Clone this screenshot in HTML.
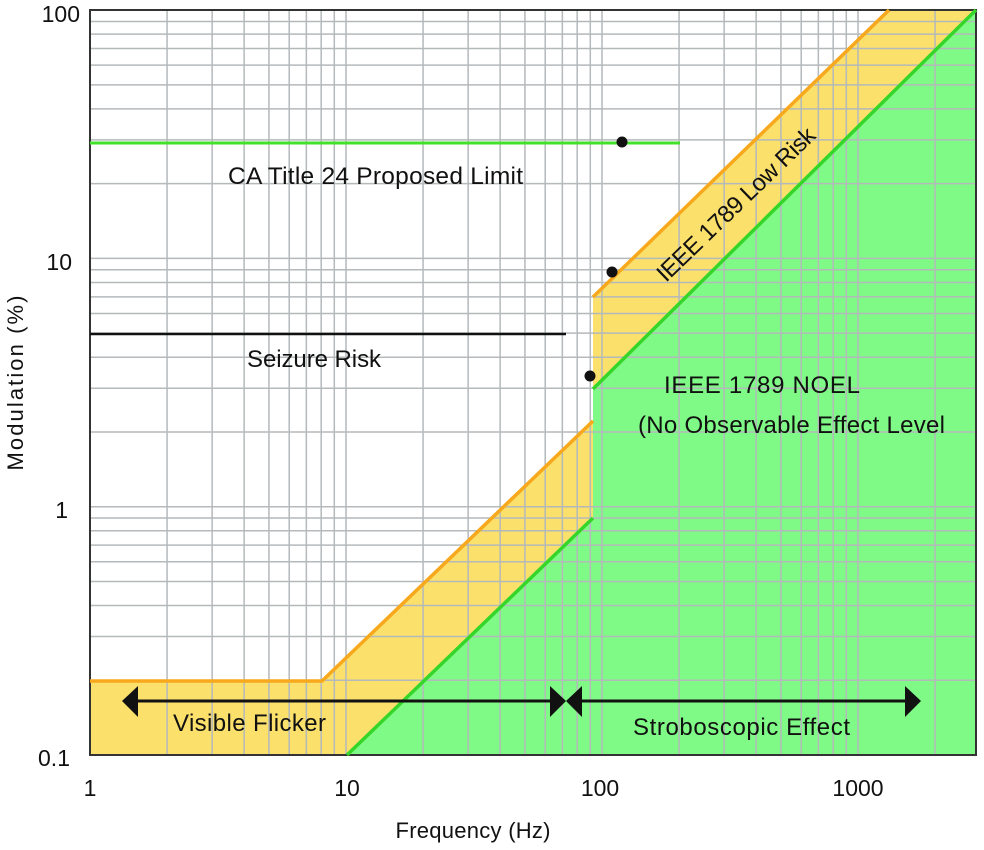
<!DOCTYPE html>
<html><head><meta charset="utf-8"><style>
html,body{margin:0;padding:0;background:#fff;}
svg text{font-family:"Liberation Sans",sans-serif;fill:#111;}
</style></head><body>
<svg id="s" width="984" height="845" viewBox="0 0 984 845" xmlns="http://www.w3.org/2000/svg">
<polygon points="90,755 90,680 322,680 593,420 593,297 889,10 976,10 976,755" fill="#fbe06b"/>
<polygon points="347,755 593,518 593,389 976,10 976,755" fill="#80fa86"/>
<g id="grid" stroke="#b4b9bb" stroke-width="1.5" fill="none"></g>
<rect x="90" y="10" width="886" height="745" fill="none" stroke="#333" stroke-width="2"/>
<polyline points="90,681 322,681 593,421" fill="none" stroke="#f7a81c" stroke-width="3.5"/>
<line x1="593" y1="297" x2="889" y2="10" stroke="#f7a81c" stroke-width="3.5"/>
<line x1="347" y1="755" x2="593" y2="518" stroke="#36d52a" stroke-width="3.5"/>
<line x1="593" y1="389" x2="976" y2="10" stroke="#36d52a" stroke-width="3.5"/>
<line x1="90" y1="143" x2="680" y2="143" stroke="#42e02a" stroke-width="3"/>
<line x1="90" y1="334" x2="566" y2="334" stroke="#111" stroke-width="2.5"/>
<circle cx="622" cy="142" r="5.5" fill="#111"/>
<circle cx="612" cy="272" r="5.5" fill="#111"/>
<circle cx="590" cy="376" r="5.5" fill="#111"/>
<line x1="135" y1="701" x2="552" y2="701" stroke="#111" stroke-width="3"/>
<polygon points="122,701 138,686 138,717" fill="#111"/>
<polygon points="566,701 550,686 550,717" fill="#111"/>
<line x1="580" y1="701" x2="908" y2="701" stroke="#111" stroke-width="3"/>
<polygon points="566,701 582,686 582,717" fill="#111"/>
<polygon points="921,701 905,686 905,717" fill="#111"/>
<text x="228" y="184" font-size="24.5" textLength="295">CA Title 24 Proposed Limit</text>
<text x="247" y="367" font-size="24" textLength="134">Seizure Risk</text>
<text x="173" y="731" font-size="24" textLength="153">Visible Flicker</text>
<text x="633" y="735" font-size="24" textLength="217">Stroboscopic Effect</text>
<text x="664" y="393" font-size="24" textLength="196">IEEE 1789 NOEL</text>
<text x="638" y="433" font-size="24" textLength="307">(No Observable Effect Level</text>
<text x="0" y="0" font-size="24" textLength="210" transform="translate(666,283) rotate(-44)">IEEE 1789 Low Risk</text>
<g font-size="23" text-anchor="end">
<text x="80" y="22">100</text><text x="72" y="270">10</text><text x="68" y="518">1</text><text x="70" y="766">0.1</text>
</g>
<g font-size="23" text-anchor="middle">
<text x="90" y="796">1</text><text x="347" y="796">10</text><text x="600" y="796">100</text><text x="858" y="796">1000</text>
</g>
<text x="473" y="838" font-size="22" text-anchor="middle" textLength="155">Frequency (Hz)</text>
<text x="0" y="0" font-size="22" text-anchor="middle" transform="translate(23,383) rotate(-90)" textLength="175">Modulation (%)</text>
</svg>
<script>
var g=document.getElementById('grid'),ns='http://www.w3.org/2000/svg';
function L(x1,y1,x2,y2){var l=document.createElementNS(ns,'line');l.setAttribute('x1',x1);l.setAttribute('y1',y1);l.setAttribute('x2',x2);l.setAttribute('y2',y2);g.appendChild(l);}
for(var d=0;d<4;d++)for(var k=1;k<10;k++){var x=90+(d+Math.log10(k))*256;if(x>976)break;if(d==0&&k==1)continue;L(x,10,x,755);}
for(var d=0;d<3;d++)for(var k=1;k<10;k++){var y=755-(d+Math.log10(k))*248.3;if(d==0&&k==1)continue;L(90,y,976,y);}
</script>
</body></html>
